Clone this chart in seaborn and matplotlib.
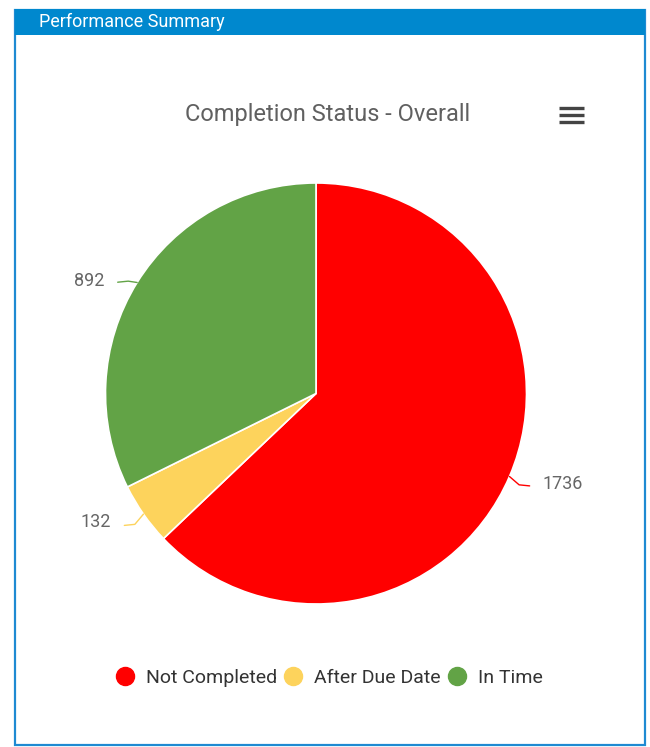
import matplotlib
matplotlib.use("Agg")
import matplotlib.pyplot as plt
import seaborn as sns
import numpy as np
from matplotlib.patches import Rectangle
from matplotlib.lines import Line2D

# ---- data ----
categories = ["Not Completed", "After Due Date", "In Time"]
values = [1736, 132, 892]
colors = ["#FF0000", "#FDD35C", "#62A346"]
title = "Completion Status - Overall"
panel_title = "Performance Summary"

sns.set_theme(style="white")
plt.rcParams['font.family'] = ['Roboto', 'DejaVu Sans']

W, H = 650, 747
fig = plt.figure(figsize=(6.5, 7.47), dpi=100)
fig.patch.set_facecolor("white")


def fx(px):
    return px / W


def fy(py):
    return 1 - py / H


# panel border and header
fig.patches.append(Rectangle((fx(15), fy(745)), fx(645) - fx(15), fy(10) - fy(745),
                             transform=fig.transFigure, fill=False,
                             edgecolor="#1E8AD2", linewidth=1.6))
fig.patches.append(Rectangle((fx(15), fy(35)), fx(645) - fx(15), fy(9) - fy(35),
                             transform=fig.transFigure, facecolor="#0088CE",
                             edgecolor="none"))
fig.text(fx(39), fy(22), panel_title, color="white", fontsize=13,
         va="center", ha="left")

fig.text(fx(328), fy(114), title, color="#606060", fontsize=17,
         ha="center", va="center")

# hamburger menu icon
for yy in (108, 115, 122):
    fig.add_artist(Line2D([fx(559), fx(584)], [fy(yy), fy(yy)], color="#444444",
                          linewidth=2.4, solid_capstyle="butt"))

# pie
cx, cy, R = 316, 393.5, 210.5
ax = fig.add_axes([fx(cx - R), fy(cy + R), 2 * R / W, 2 * R / H])
wedges, _ = ax.pie(values, colors=colors, startangle=90, counterclock=False,
                   wedgeprops=dict(edgecolor="white", linewidth=1.2))
ax.set_xlim(-1, 1)
ax.set_ylim(-1, 1)
ax.axis("off")

for w, v, c in zip(wedges, values, colors):
    t = np.deg2rad((w.theta1 + w.theta2) / 2)
    ex, ey = np.cos(t), np.sin(t)
    s = 1 if ex >= 0 else -1
    dy = -0.038 if ey < 0 else 0.005
    ox, oy = 1.05 * ex, 1.05 * ey - 0.02
    ax.plot([ex, ox, ox + s * 0.05], [ey, oy, oy - 0.005], color=c, lw=1,
            clip_on=False)
    ax.text(ex + s * 0.155, ey + dy, f"{v}", ha="left" if s > 0 else "right",
            va="center", fontsize=13, color="#666666", clip_on=False)

# legend
handles = [Line2D([], [], marker="o", linestyle="", markersize=13, color=c)
           for c in colors]
leg = fig.legend(handles, categories, loc="center", bbox_to_anchor=(fx(329), fy(678)),
                 ncol=3, frameon=False, fontsize=14, handlelength=1.0,
                 handletextpad=0.58, columnspacing=0.33)
for txt in leg.get_texts():
    txt.set_color("#333333")

fig.savefig("out.png", dpi=100, facecolor="white")
